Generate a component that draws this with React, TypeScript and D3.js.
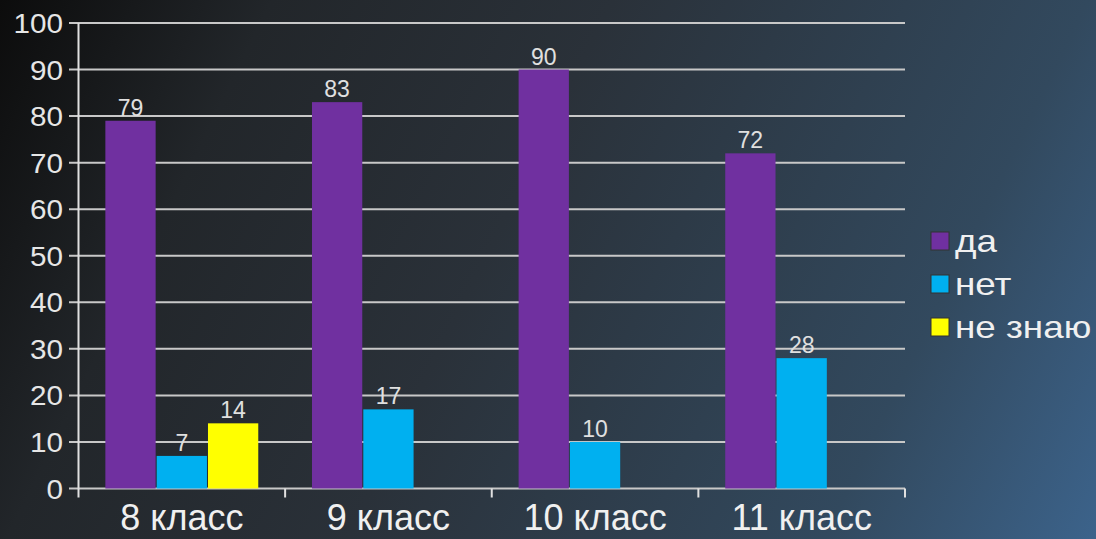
import React from "react";
import * as d3 from "d3";

const categories = ["8 класс", "9 класс", "10 класс", "11 класс"];
const seriesNames = ["да", "нет", "не знаю"];
const daValues = [79, 83, 90, 72];
const netValues = [7, 17, 10, 28];
const neZnayuValues: (number | null)[] = [14, null, null, null];
const yTicks = [0, 10, 20, 30, 40, 50, 60, 70, 80, 90, 100];
const colors = ["#7030a0", "#00b0f0", "#ffff00"];

const W = 1096;
const H = 539;
const FONT = "'Liberation Sans', Arial, sans-serif";

export default function App() {
  const series = [daValues, netValues, neZnayuValues];
  const left = 78.5;
  const right = 905;
  const top = 23;
  const bottom = 488.5;
  const y = d3.scaleLinear().domain([0, 100]).range([bottom, top]);
  const x = d3.scaleBand<string>().domain(categories).range([left, right]).paddingInner(0).paddingOuter(0);
  const bw = x.bandwidth();
  const inner = d3.scaleBand<string>().domain(seriesNames).range([bw * 0.13, bw * 0.87]).paddingInner(0.02);

  return (
    <svg width={W} height={H} style={{ position: "absolute", left: 0, top: 0, display: "block" }}>
      <defs>
        <linearGradient id="bg" gradientUnits="userSpaceOnUse" x1={0} y1={0} x2={W} y2={H}>
          <stop offset="0" stopColor="#0c0c0c" />
          <stop offset="0.2" stopColor="#22262a" />
          <stop offset="0.45" stopColor="#2a3139" />
          <stop offset="0.8" stopColor="#32495e" />
          <stop offset="1" stopColor="#3c638b" />
        </linearGradient>
      </defs>
      <rect x={0} y={0} width={W} height={H} fill="url(#bg)" />
      {yTicks.map((t) => (
        <g key={t}>
          <line x1={69} x2={right} y1={y(t)} y2={y(t)} stroke="#c8c8c8" strokeWidth={2} />
          <text
            transform={`translate(63, ${y(t) + 10}) scale(1.06, 1)`}
            textAnchor="end"
            fill="#e6e6e6"
            fontSize={28}
            fontFamily={FONT}
          >
            {t}
          </text>
        </g>
      ))}
      <line x1={left} x2={left} y1={top} y2={bottom + 9} stroke="#e0e0e0" strokeWidth={2} />
      {categories.map((c) => (
        <line key={"t" + c} x1={(x(c) as number) + bw} x2={(x(c) as number) + bw} y1={bottom} y2={bottom + 9} stroke="#e0e0e0" strokeWidth={2} />
      ))}
      {categories.map((c, ci) => (
        <g key={c}>
          {series.map((s, si) => {
            const v = s[ci];
            if (v == null) return null;
            const bx = (x(c) as number) + (inner(seriesNames[si]) as number);
            return (
              <g key={si}>
                <rect x={bx} y={y(v)} width={inner.bandwidth()} height={bottom - y(v)} fill={colors[si]} />
                <text x={bx + inner.bandwidth() / 2} y={y(v) - 5} textAnchor="middle" fill="#e0e0e0" fontSize={23} fontFamily={FONT}>
                  {v}
                </text>
              </g>
            );
          })}
          <text x={(x(c) as number) + bw / 2} y={530} textAnchor="middle" fill="#f0f0f0" fontSize={36} fontFamily={FONT}>
            {c}
          </text>
        </g>
      ))}
      {seriesNames.map((n, i) => (
        <g key={n} transform={`translate(931, ${241 + i * 43})`}>
          <rect x={0} y={-9} width={18} height={18} fill={colors[i]} stroke="#333" strokeWidth={1} />
          <text transform="translate(24, 11) scale(1.15, 1)" fill="#f0f0f0" fontSize={32} fontFamily={FONT}>
            {n}
          </text>
        </g>
      ))}
    </svg>
  );
}
